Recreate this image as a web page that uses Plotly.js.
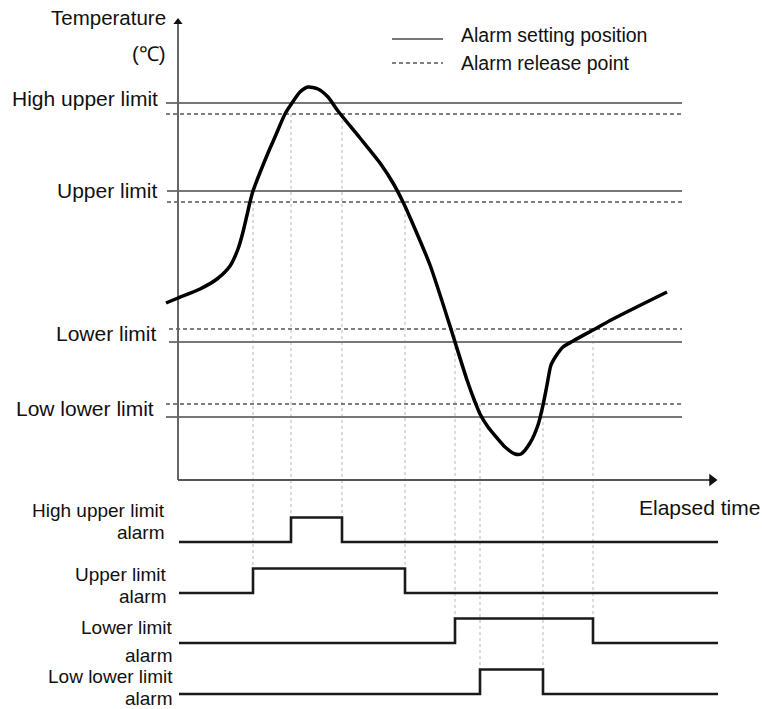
<!DOCTYPE html>
<html>
<head>
<meta charset="utf-8">
<script src="https://cdn.plot.ly/plotly-3.0.1.min.js"></script>
<style>html,body{margin:0;padding:0;background:#fff;}#chart{width:762px;height:709px;}</style>
</head>
<body>
<div id="chart"></div>
<script>
// ---- data (time = elapsed time units, temperature = arbitrary units above the time axis) ----
const curveTime = [-12, 0, 22, 39, 52, 60, 65, 69, 72, 75, 90, 97, 107, 114, 122, 130, 140, 150, 160, 182, 202, 215, 225, 234, 252, 272, 277, 289, 297, 302, 310, 319, 327, 337, 343, 352, 360, 365, 369, 373, 378, 385, 395, 415, 435, 489];
const curveTemp = [177, 182, 191, 201, 214, 231, 248, 265, 278, 289, 327, 343, 366, 377, 388, 393, 391, 383, 369, 342, 317, 297, 278, 258, 215, 154, 138, 100, 78, 66, 53, 42, 33, 26, 26, 37, 55, 75, 95, 115, 124, 133, 139, 150, 161, 188];

const limitNames = ['High upper limit', 'Upper limit', 'Lower limit', 'Low lower limit'];
const settingLevels = [377, 289, 138, 63];   // alarm setting position (solid)
const releaseLevels = [366, 278, 151, 76];   // alarm release point (dashed)

const alarmLabels = [['High upper limit', 'alarm'], ['Upper limit', 'alarm'], ['Lower limit', 'alarm'], ['Low lower limit', 'alarm']];
const alarmOn = [113, 75, 277, 302];
const alarmOff = [164, 227, 415, 365];

const legendLabels = ['Alarm setting position', 'Alarm release point'];
const yAxisTitle = ['Temperature', '(\u2103)'];
const xAxisTitle = 'Elapsed time';

// ---- layout / style constants ----
const FONT = 'Liberation Sans, Arial, sans-serif';
const lineStart = [-12, -11, -9, -12];
const lineEnd = 504;
const rowBase = [-62, -113, -163, -214];
const rowHeight = 24.5;
const sigStart = 1, sigEnd = 540;
const labelY = [382, 290, 147, 72];
const labelX = [-18, -18, -19, -22];
const alarmLabelX = [-11, -9, -3, -3];
const alarmLabelY = [[-30, -52], [-94, -116], [-147, -175], [-196, -218]];

const traces = [];
const annotations = [];

// vertical dotted guides
for (let i = 0; i < 4; i++) {
  [alarmOn[i], alarmOff[i]].forEach(t => {
    traces.push({x: [t, t], y: [releaseLevels[i], rowBase[i]], mode: 'lines',
      line: {color: '#b8b8b8', width: 1, dash: 'dot'}, hoverinfo: 'skip'});
  });
}

// limit lines
for (let i = 0; i < 4; i++) {
  traces.push({x: [lineStart[i], lineEnd], y: [settingLevels[i], settingLevels[i]], mode: 'lines',
    line: {color: '#777', width: 2.2}, hoverinfo: 'skip'});
  traces.push({x: [lineStart[i], lineEnd], y: [releaseLevels[i], releaseLevels[i]], mode: 'lines',
    line: {color: '#555', width: 1.6, dash: '4px,3px'}, hoverinfo: 'skip'});
  annotations.push({x: labelX[i], y: labelY[i], xref: 'x', yref: 'y', text: limitNames[i],
    showarrow: false, xanchor: 'right', yanchor: 'middle', font: {family: FONT, size: 21, color: '#111'}});
}

// axes
traces.push({x: [0, 0], y: [0, 456], mode: 'lines', line: {color: '#666', width: 2}, hoverinfo: 'skip'});
traces.push({x: [0, 532], y: [0, 0], mode: 'lines', line: {color: '#555', width: 2}, hoverinfo: 'skip'});
traces.push({x: [0], y: [458], mode: 'markers', marker: {symbol: 'triangle-up', size: 8, color: '#111'}, hoverinfo: 'skip'});
traces.push({x: [534], y: [0], mode: 'markers', marker: {symbol: 'triangle-right', size: 11, color: '#111'}, hoverinfo: 'skip'});

// temperature curve
traces.push({x: curveTime, y: curveTemp, mode: 'lines',
  line: {color: '#000', width: 3.5, shape: 'spline', smoothing: 0.7}, hoverinfo: 'skip'});

// alarm signals
for (let i = 0; i < 4; i++) {
  const xs = [sigStart, alarmOn[i], alarmOff[i], sigEnd];
  const states = [0, 1, 0, 0];
  traces.push({x: xs, y: states.map(s => rowBase[i] + s * rowHeight), mode: 'lines',
    line: {color: '#1a1a1a', width: 2.6, shape: 'hv'}, hoverinfo: 'skip'});
  alarmLabels[i].forEach((txt, k) => {
    annotations.push({x: alarmLabelX[i], y: alarmLabelY[i][k], xref: 'x', yref: 'y', text: txt,
      showarrow: false, xanchor: 'right', yanchor: 'middle', font: {family: FONT, size: 19, color: '#111'}});
  });
}

// legend (drawn)
traces.push({x: [214, 265], y: [441, 441], mode: 'lines', line: {color: '#777', width: 2.2}, hoverinfo: 'skip'});
traces.push({x: [214, 265], y: [417, 417], mode: 'lines', line: {color: '#555', width: 1.4, dash: '4px,3px'}, hoverinfo: 'skip'});
annotations.push({x: 281, y: 445, xref: 'x', yref: 'y', text: legendLabels[0], showarrow: false,
  xanchor: 'left', yanchor: 'middle', font: {family: FONT, size: 19.5, color: '#111'}});
annotations.push({x: 281, y: 417, xref: 'x', yref: 'y', text: legendLabels[1], showarrow: false,
  xanchor: 'left', yanchor: 'middle', font: {family: FONT, size: 19.5, color: '#111'}});

// axis titles
annotations.push({x: -10, y: 463, xref: 'x', yref: 'y', text: yAxisTitle[0], showarrow: false,
  xanchor: 'right', yanchor: 'middle', font: {family: FONT, size: 20.5, color: '#111'}});
annotations.push({x: -10, y: 427, xref: 'x', yref: 'y', text: yAxisTitle[1], showarrow: false,
  xanchor: 'right', yanchor: 'middle', font: {family: FONT, size: 20.5, color: '#111'}});
annotations.push({x: 459, y: -27, xref: 'x', yref: 'y', text: xAxisTitle, showarrow: false,
  xanchor: 'left', yanchor: 'middle', font: {family: FONT, size: 21, color: '#111'}});

const layout = {
  width: 762, height: 709,
  margin: {l: 0, r: 0, t: 0, b: 0},
  paper_bgcolor: '#fff', plot_bgcolor: '#fff',
  showlegend: false,
  xaxis: {range: [-178, 584], visible: false, fixedrange: true},
  yaxis: {range: [-229, 480], visible: false, fixedrange: true},
  annotations: annotations
};

Plotly.newPlot('chart', traces, layout, {staticPlot: true});
</script>
</body>
</html>
